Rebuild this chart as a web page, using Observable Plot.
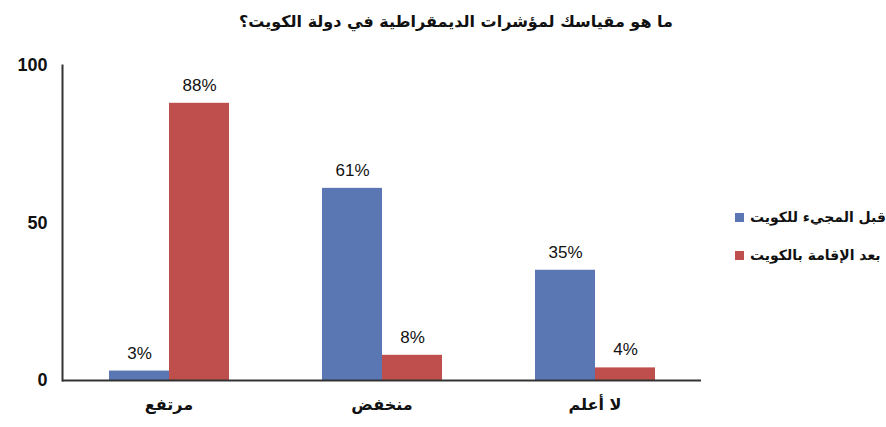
<!DOCTYPE html>
<html><head><meta charset="utf-8">
<script src="https://cdn.jsdelivr.net/npm/d3@7"></script>
<script src="https://cdn.jsdelivr.net/npm/@observablehq/plot@0.6"></script>
<style>
body{margin:0;background:#fff;}
#wrap{position:relative;width:886px;height:427px;overflow:hidden;background:#fff;}
#title{height:45px;padding-top:12px;line-height:24px;text-align:center;font:bold 16px "DejaVu Sans",sans-serif;direction:rtl;padding-left:26px;box-sizing:border-box;color:#111;}
#legend{position:absolute;left:735px;top:198px;font:bold 14px "DejaVu Sans",sans-serif;color:#111;white-space:nowrap;}
#legend .row{display:flex;align-items:center;height:38px;}
#legend .sw{width:9px;height:9px;margin-right:6px;}
#legend .lab{direction:rtl;}
</style></head><body>
<div id="wrap"><div id="title"></div><div id="chart"></div><div id="legend"></div></div>
<script>
const titleText = "ما هو مقياسك لمؤشرات الديمقراطية في دولة الكويت؟";
const categories = ["مرتفع", "منخفض", "لا أعلم"];
const seriesNames = ["قبل المجيء للكويت", "بعد الإقامة بالكويت"];
const beforeValues = [3, 61, 35];
const afterValues = [88, 8, 4];
const yTicks = [0, 50, 100];
const colors = ["#5a77b4", "#be4f4d"];

const table = [];
categories.forEach((c, i) => {
  table.push({cat: c, series: seriesNames[0], value: beforeValues[i]});
  table.push({cat: c, series: seriesNames[1], value: afterValues[i]});
});

document.getElementById("title").textContent = titleText;

const chart = Plot.plot({
  width: 886,
  height: 382,
  marginLeft: 61,
  marginRight: 184,
  marginTop: 20,
  marginBottom: 47,
  style: {fontFamily: "'Liberation Sans', 'DejaVu Sans', sans-serif", fontSize: "18px", fontWeight: "bold", color: "#111", background: "#fff"},
  fx: {domain: categories, padding: 0, label: null},
  x: {domain: seriesNames, paddingInner: 0, paddingOuter: 0.754, axis: null},
  y: {domain: [0, 100], label: null},
  color: {domain: seriesNames, range: colors},
  marks: [
    Plot.barY(table, {fx: "cat", x: "series", y: "value", fill: "series"}),
    Plot.text(table, {fx: "cat", x: "series", y: "value", text: d => d.value + "%", dy: -18, fontSize: 17, fontWeight: "normal", fill: "#111"}),
    Plot.ruleY([0], {stroke: "#333", strokeWidth: 2}),
    Plot.frame({anchor: "left", stroke: "#333", strokeWidth: 2, fx: () => categories[0]}),
    Plot.axisY({ticks: yTicks, tickSize: 0, tickPadding: 15, label: null}),
    Plot.axisFx({anchor: "bottom", tickSize: 0, tickPadding: 18, label: null, fontFamily: "DejaVu Sans", fontSize: 16})
  ]
});
document.getElementById("chart").appendChild(chart);

const legend = document.getElementById("legend");
seriesNames.forEach((s, i) => {
  const row = document.createElement("div");
  row.className = "row";
  row.innerHTML = `<div class="sw" style="background:${colors[i]}"></div><div class="lab">${s}</div>`;
  legend.appendChild(row);
});
</script>
</body></html>
